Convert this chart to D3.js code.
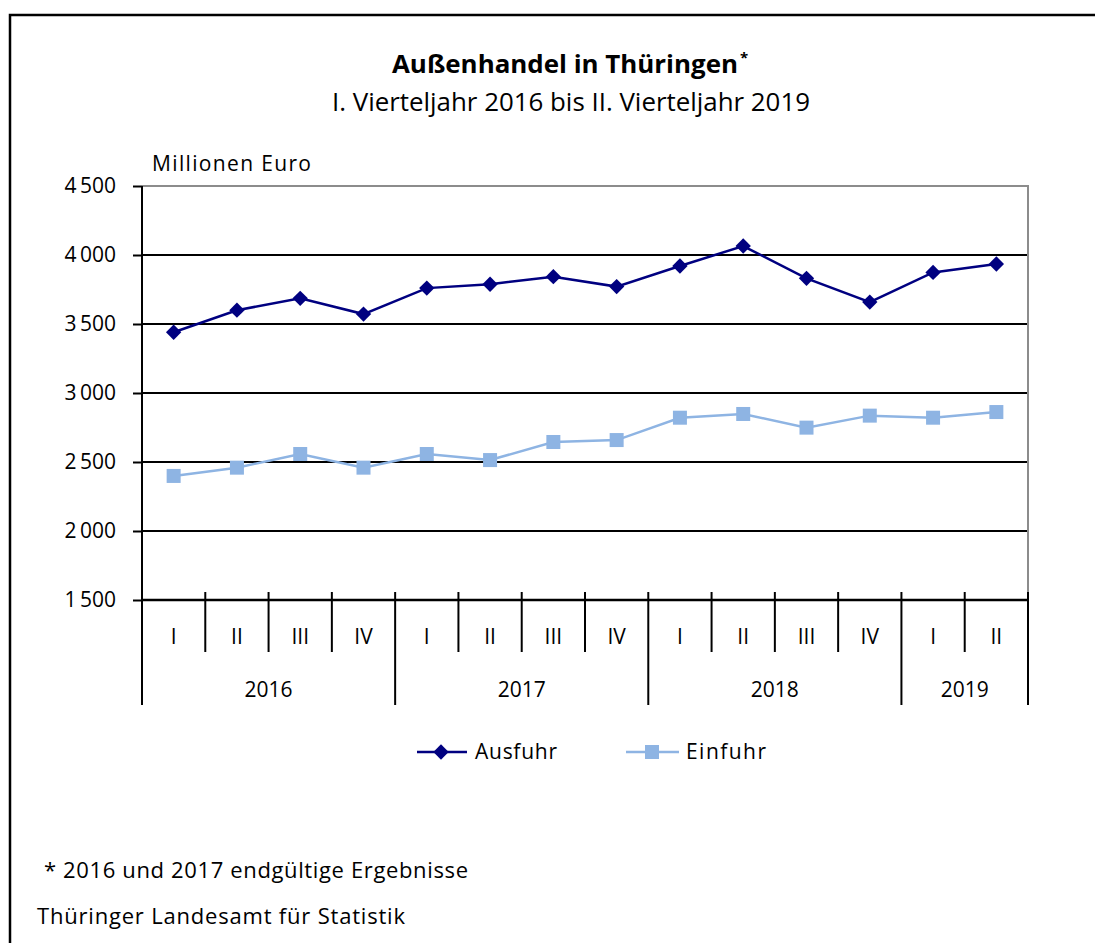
<!DOCTYPE html>
<html>
<head>
<meta charset="utf-8">
<script src="https://cdn.jsdelivr.net/npm/d3@7"></script>
<style>
  body { margin: 0; background: #fff; }
  svg { display: block; font-family: "Open Sans", sans-serif; }
</style>
</head>
<body>
<div id="chart"></div>
<script>
// data
var years = ["2016", "2016", "2016", "2016", "2017", "2017", "2017", "2017",
             "2018", "2018", "2018", "2018", "2019", "2019"];
var quarters = ["I", "II", "III", "IV", "I", "II", "III", "IV",
                "I", "II", "III", "IV", "I", "II"];
var ausfuhr = [3440, 3600, 3686, 3572, 3760, 3788, 3843, 3771, 3920, 4065, 3831, 3659, 3874, 3935];
var einfuhr = [2399, 2459, 2558, 2459, 2558, 2514, 2645, 2659, 2821, 2848, 2749, 2836, 2821, 2862];
var yTicks = [1500, 2000, 2500, 3000, 3500, 4000, 4500];

var keys = years.map(function (y, i) { return y + "-" + i; });

var svg = d3.select("#chart")
    .append("svg")
    .attr("width", 1095)
    .attr("height", 943);

// outer frame (runs past right and bottom edge)
svg.append("path")
    .attr("d", "M10,1000 V15 H1100")
    .attr("fill", "none")
    .attr("stroke", "black")
    .attr("stroke-width", 2.5);

var x = d3.scaleBand()
    .domain(keys)
    .range([142, 1028]);

var y = d3.scaleLinear()
    .domain([1500, 4500])
    .range([600, 186]);

var fmt = d3.formatLocale({ thousands: "\u2009", grouping: [3], decimal: ",", currency: ["", ""] }).format(",");

// title
svg.append("text")
    .attr("x", 392).attr("y", 73)
    .attr("font-size", 25)
    .attr("font-weight", "bold")
    .attr("textLength", 346)
    .attr("lengthAdjust", "spacingAndGlyphs")
    .text("Außenhandel in Thüringen");
svg.append("text")
    .attr("x", 740).attr("y", 63)
    .attr("font-size", 15)
    .attr("font-weight", "bold")
    .text("*");
svg.append("text")
    .attr("x", 332).attr("y", 111)
    .attr("font-size", 25)
    .attr("textLength", 478)
    .attr("lengthAdjust", "spacingAndGlyphs")
    .text("I. Vierteljahr 2016 bis II. Vierteljahr 2019");

svg.append("text")
    .attr("x", 152).attr("y", 171)
    .attr("font-size", 21)
    .attr("textLength", 159)
    .attr("lengthAdjust", "spacing")
    .text("Millionen  Euro");

// gridlines
svg.append("g")
    .selectAll("line")
    .data(yTicks.filter(function (d) { return d > 1500 && d < 4500; }))
    .enter().append("line")
    .attr("x1", 142).attr("x2", 1028)
    .attr("y1", function (d) { return y(d); })
    .attr("y2", function (d) { return y(d); })
    .attr("stroke", "black")
    .attr("stroke-width", 2);

// plot border top/right
svg.append("path")
    .attr("d", "M142," + y(4500) + " H1028 V600")
    .attr("fill", "none")
    .attr("stroke", "#8c8c8c")
    .attr("stroke-width", 2);

// y axis
var yAxis = svg.append("g")
    .attr("transform", "translate(142,0)")
    .call(d3.axisLeft(y).tickValues(yTicks).tickSize(9).tickPadding(17).tickFormat(fmt));
yAxis.select(".domain").attr("stroke-width", 2).attr("d", "M0,186 V705");
yAxis.selectAll(".tick line").attr("stroke-width", 2);
yAxis.selectAll(".tick text").attr("font-size", 21).attr("font-family", "Open Sans").attr("fill", "black");

// x axis line
svg.append("line")
    .attr("x1", 142).attr("x2", 1028)
    .attr("y1", 600).attr("y2", 600)
    .attr("stroke", "black").attr("stroke-width", 2.5);

// category separators
var bounds = keys.map(function (k) { return x(k); }).concat([x.range()[1]]);
svg.append("g")
    .selectAll("line")
    .data(bounds)
    .enter().append("line")
    .attr("x1", function (d) { return d; })
    .attr("x2", function (d) { return d; })
    .attr("y1", 592)
    .attr("y2", function (d, i) {
        var yearEdge = i === 0 || i === bounds.length - 1 || years[i] !== years[i - 1];
        return yearEdge ? 705 : 652;
    })
    .attr("stroke", "black")
    .attr("stroke-width", 2);

// quarter labels
svg.append("g")
    .selectAll("text")
    .data(keys)
    .enter().append("text")
    .attr("x", function (d) { return x(d) + x.bandwidth() / 2; })
    .attr("y", 644)
    .attr("text-anchor", "middle")
    .attr("font-size", 21)
    .text(function (d, i) { return quarters[i]; });

// year labels
var yearGroups = d3.groups(keys, function (k) { return k.split("-")[0]; });
svg.append("g")
    .selectAll("text")
    .data(yearGroups)
    .enter().append("text")
    .attr("x", function (g) {
        var a = x(g[1][0]), b = x(g[1][g[1].length - 1]) + x.bandwidth();
        return (a + b) / 2;
    })
    .attr("y", 697)
    .attr("text-anchor", "middle")
    .attr("font-size", 21)
    .text(function (g) { return g[0]; });

var line = d3.line()
    .x(function (d, i) { return x(keys[i]) + x.bandwidth() / 2; })
    .y(function (d) { return y(d); });

var ausColor = "#000080", einColor = "#8eb4e3";

svg.append("path")
    .datum(einfuhr)
    .attr("d", line)
    .attr("fill", "none")
    .attr("stroke", einColor)
    .attr("stroke-width", 2.5);

svg.append("g")
    .selectAll("rect")
    .data(einfuhr)
    .enter().append("rect")
    .attr("x", function (d, i) { return x(keys[i]) + x.bandwidth() / 2 - 7; })
    .attr("y", function (d) { return y(d) - 7; })
    .attr("width", 14).attr("height", 14)
    .attr("fill", einColor);

svg.append("path")
    .datum(ausfuhr)
    .attr("d", line)
    .attr("fill", "none")
    .attr("stroke", ausColor)
    .attr("stroke-width", 2.5);

var diamond = d3.symbol().type(d3.symbolDiamond2).size(150);
svg.append("g")
    .selectAll("path")
    .data(ausfuhr)
    .enter().append("path")
    .attr("d", diamond)
    .attr("transform", function (d, i) {
        return "translate(" + (x(keys[i]) + x.bandwidth() / 2) + "," + y(d) + ")";
    })
    .attr("fill", ausColor);

// legend
var legend = svg.append("g");
legend.append("line")
    .attr("x1", 417).attr("x2", 467).attr("y1", 752).attr("y2", 752)
    .attr("stroke", ausColor).attr("stroke-width", 2.5);
legend.append("path")
    .attr("d", diamond)
    .attr("transform", "translate(441,752)")
    .attr("fill", ausColor);
legend.append("text")
    .attr("x", 475).attr("y", 759)
    .attr("font-size", 21)
    .attr("textLength", 82)
    .attr("lengthAdjust", "spacing")
    .text("Ausfuhr");
legend.append("line")
    .attr("x1", 626).attr("x2", 679).attr("y1", 752).attr("y2", 752)
    .attr("stroke", einColor).attr("stroke-width", 2.5);
legend.append("rect")
    .attr("x", 645).attr("y", 745).attr("width", 14).attr("height", 14)
    .attr("fill", einColor);
legend.append("text")
    .attr("x", 686).attr("y", 759)
    .attr("font-size", 21)
    .attr("textLength", 80)
    .attr("lengthAdjust", "spacing")
    .text("Einfuhr");

// footnotes
svg.append("text")
    .attr("x", 44).attr("y", 878)
    .attr("font-size", 22)
    .attr("textLength", 424)
    .attr("lengthAdjust", "spacing")
    .text("* 2016 und 2017 endgültige  Ergebnisse");
svg.append("text")
    .attr("x", 37).attr("y", 924)
    .attr("font-size", 22)
    .attr("textLength", 368)
    .attr("lengthAdjust", "spacing")
    .text("Thüringer Landesamt für Statistik");
</script>
</body>
</html>
